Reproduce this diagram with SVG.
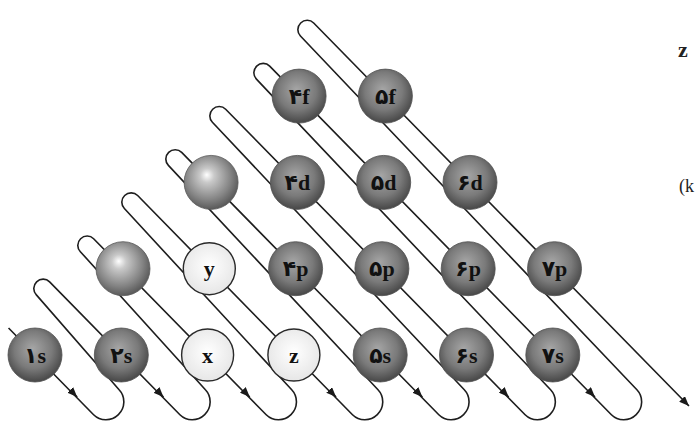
<svg xmlns="http://www.w3.org/2000/svg" width="696" height="425" viewBox="0 0 696 425">
<defs>
  <radialGradient id="gDark" cx="48%" cy="42%" r="58%" fx="45%" fy="38%">
    <stop offset="0" stop-color="#a6a6a6"/>
    <stop offset="0.6" stop-color="#7a7a7a"/>
    <stop offset="1" stop-color="#474747"/>
  </radialGradient>
  <radialGradient id="gBlank" cx="45%" cy="42%" r="60%" fx="42%" fy="36%">
    <stop offset="0" stop-color="#ffffff"/>
    <stop offset="0.22" stop-color="#c9c9c9"/>
    <stop offset="0.7" stop-color="#848484"/>
    <stop offset="1" stop-color="#555555"/>
  </radialGradient>
  <radialGradient id="gLight" cx="50%" cy="45%" r="60%">
    <stop offset="0" stop-color="#ffffff"/>
    <stop offset="1" stop-color="#e4e4e4"/>
  </radialGradient>
  <marker id="ah" viewBox="0 0 10 8" refX="10" refY="4" markerWidth="10" markerHeight="8" orient="auto" markerUnits="userSpaceOnUse">
    <path d="M0,0 L10,4 L0,8 z" fill="#1a1a1a"/>
  </marker>
  <style>
    .snake{fill:none;stroke:#1e1e1e;stroke-width:1.6;stroke-linejoin:round}
    .tip{fill:none;stroke:#1e1e1e;stroke-width:1.6}
    .dark{fill:url(#gDark);stroke:#505050;stroke-width:0.8}
    .blank{fill:url(#gBlank);stroke:#5a5a5a;stroke-width:0.8}
    .light{fill:url(#gLight);stroke:#2a2a2a;stroke-width:1.4}
    .lbl{font-family:"Liberation Serif","DejaVu Sans","Noto Sans",serif;font-weight:bold;font-size:22px;fill:#111;text-anchor:middle}
    .side{font-family:"Liberation Serif","DejaVu Serif",serif;font-weight:bold;font-size:22px;fill:#222}
  </style>
</defs>
<rect width="696" height="425" fill="#ffffff"/>

<g id="connectors" transform="matrix(1,0,-0.02,1,7.1,0)">
  <path class="snake" d="M8 328 L94.8 414.8 A17.68 17.68 0 0 0 119.8 389.8 L35.15 294.85 A9.19 9.19 0 0 1 48.15 281.85
  L181.1 414.8 A17.68 17.68 0 0 0 206.1 389.8 L78.3 251.7 A9.19 9.19 0 0 1 91.3 238.7
  L267.4 414.8 A17.68 17.68 0 0 0 292.4 389.8 L121.45 208.55 A9.19 9.19 0 0 1 134.45 195.55
  L353.7 414.8 A17.68 17.68 0 0 0 378.7 389.8 L164.6 165.4 A9.19 9.19 0 0 1 177.6 152.4
  L440 414.8 A17.68 17.68 0 0 0 465 389.8 L207.75 122.25 A9.19 9.19 0 0 1 220.75 109.25
  L526.3 414.8 A17.68 17.68 0 0 0 551.3 389.8 L250.9 79.1 A9.19 9.19 0 0 1 263.9 66.1
  L612.6 414.8 A17.68 17.68 0 0 0 637.6 389.8 L294.05 35.95 A9.19 9.19 0 0 1 307.05 22.95
  L690 406" marker-end="url(#ah)"/>
  <line class="tip" x1="71" y1="390" x2="78" y2="397" marker-end="url(#ah)"/>
  <line class="tip" x1="157.3" y1="390" x2="164.3" y2="397" marker-end="url(#ah)"/>
  <line class="tip" x1="243.6" y1="390" x2="250.6" y2="397" marker-end="url(#ah)"/>
  <line class="tip" x1="329.9" y1="390" x2="336.9" y2="397" marker-end="url(#ah)"/>
  <line class="tip" x1="416.2" y1="390" x2="423.2" y2="397" marker-end="url(#ah)"/>
  <line class="tip" x1="502.5" y1="390" x2="509.5" y2="397" marker-end="url(#ah)"/>
  <line class="tip" x1="588.8" y1="390" x2="595.8" y2="397" marker-end="url(#ah)"/>
</g>

<g id="n-1s"><circle class="dark" cx="35" cy="355" r="27"/><text class="lbl" x="35" y="362.5">۱s</text></g>
<g id="n-2s"><circle class="dark" cx="121.3" cy="355" r="27"/><text class="lbl" x="121.3" y="362.5">۲s</text></g>
<g id="n-3s"><circle class="light" cx="207.6" cy="355" r="26"/><text class="lbl" x="207.6" y="362.5">x</text></g>
<g id="n-4s"><circle class="light" cx="293.9" cy="355" r="26"/><text class="lbl" x="293.9" y="362.5">z</text></g>
<g id="n-5s"><circle class="dark" cx="380.2" cy="355" r="27"/><text class="lbl" x="380.2" y="362.5">۵s</text></g>
<g id="n-6s"><circle class="dark" cx="466.5" cy="355" r="27"/><text class="lbl" x="466.5" y="362.5">۶s</text></g>
<g id="n-7s"><circle class="dark" cx="552.8" cy="355" r="27"/><text class="lbl" x="552.8" y="362.5">۷s</text></g>

<g id="n-2p"><circle class="blank" cx="123" cy="268.7" r="27"/></g>
<g id="n-3p"><circle class="light" cx="209.3" cy="268.7" r="26"/><text class="lbl" x="209.3" y="276.2">y</text></g>
<g id="n-4p"><circle class="dark" cx="295.6" cy="268.7" r="27"/><text class="lbl" x="295.6" y="276.2">۴p</text></g>
<g id="n-5p"><circle class="dark" cx="381.9" cy="268.7" r="27"/><text class="lbl" x="381.9" y="276.2">۵p</text></g>
<g id="n-6p"><circle class="dark" cx="468.2" cy="268.7" r="27"/><text class="lbl" x="468.2" y="276.2">۶p</text></g>
<g id="n-7p"><circle class="dark" cx="554.5" cy="268.7" r="27"/><text class="lbl" x="554.5" y="276.2">۷p</text></g>

<g id="n-3d"><circle class="blank" cx="211.1" cy="182.4" r="27"/></g>
<g id="n-4d"><circle class="dark" cx="297.4" cy="182.4" r="27"/><text class="lbl" x="297.4" y="189.9">۴d</text></g>
<g id="n-5d"><circle class="dark" cx="383.7" cy="182.4" r="27"/><text class="lbl" x="383.7" y="189.9">۵d</text></g>
<g id="n-6d"><circle class="dark" cx="470" cy="182.4" r="27"/><text class="lbl" x="470" y="189.9">۶d</text></g>

<g id="n-4f"><circle class="dark" cx="299.1" cy="96.1" r="27"/><text class="lbl" x="299.1" y="103.6">۴f</text></g>
<g id="n-5f"><circle class="dark" cx="385.4" cy="96.1" r="27"/><text class="lbl" x="385.4" y="103.6">۵f</text></g>

<text class="side" x="678" y="57">z</text>
<text class="side" x="679" y="192" style="font-weight:normal;font-size:18px">(k</text>
</svg>
